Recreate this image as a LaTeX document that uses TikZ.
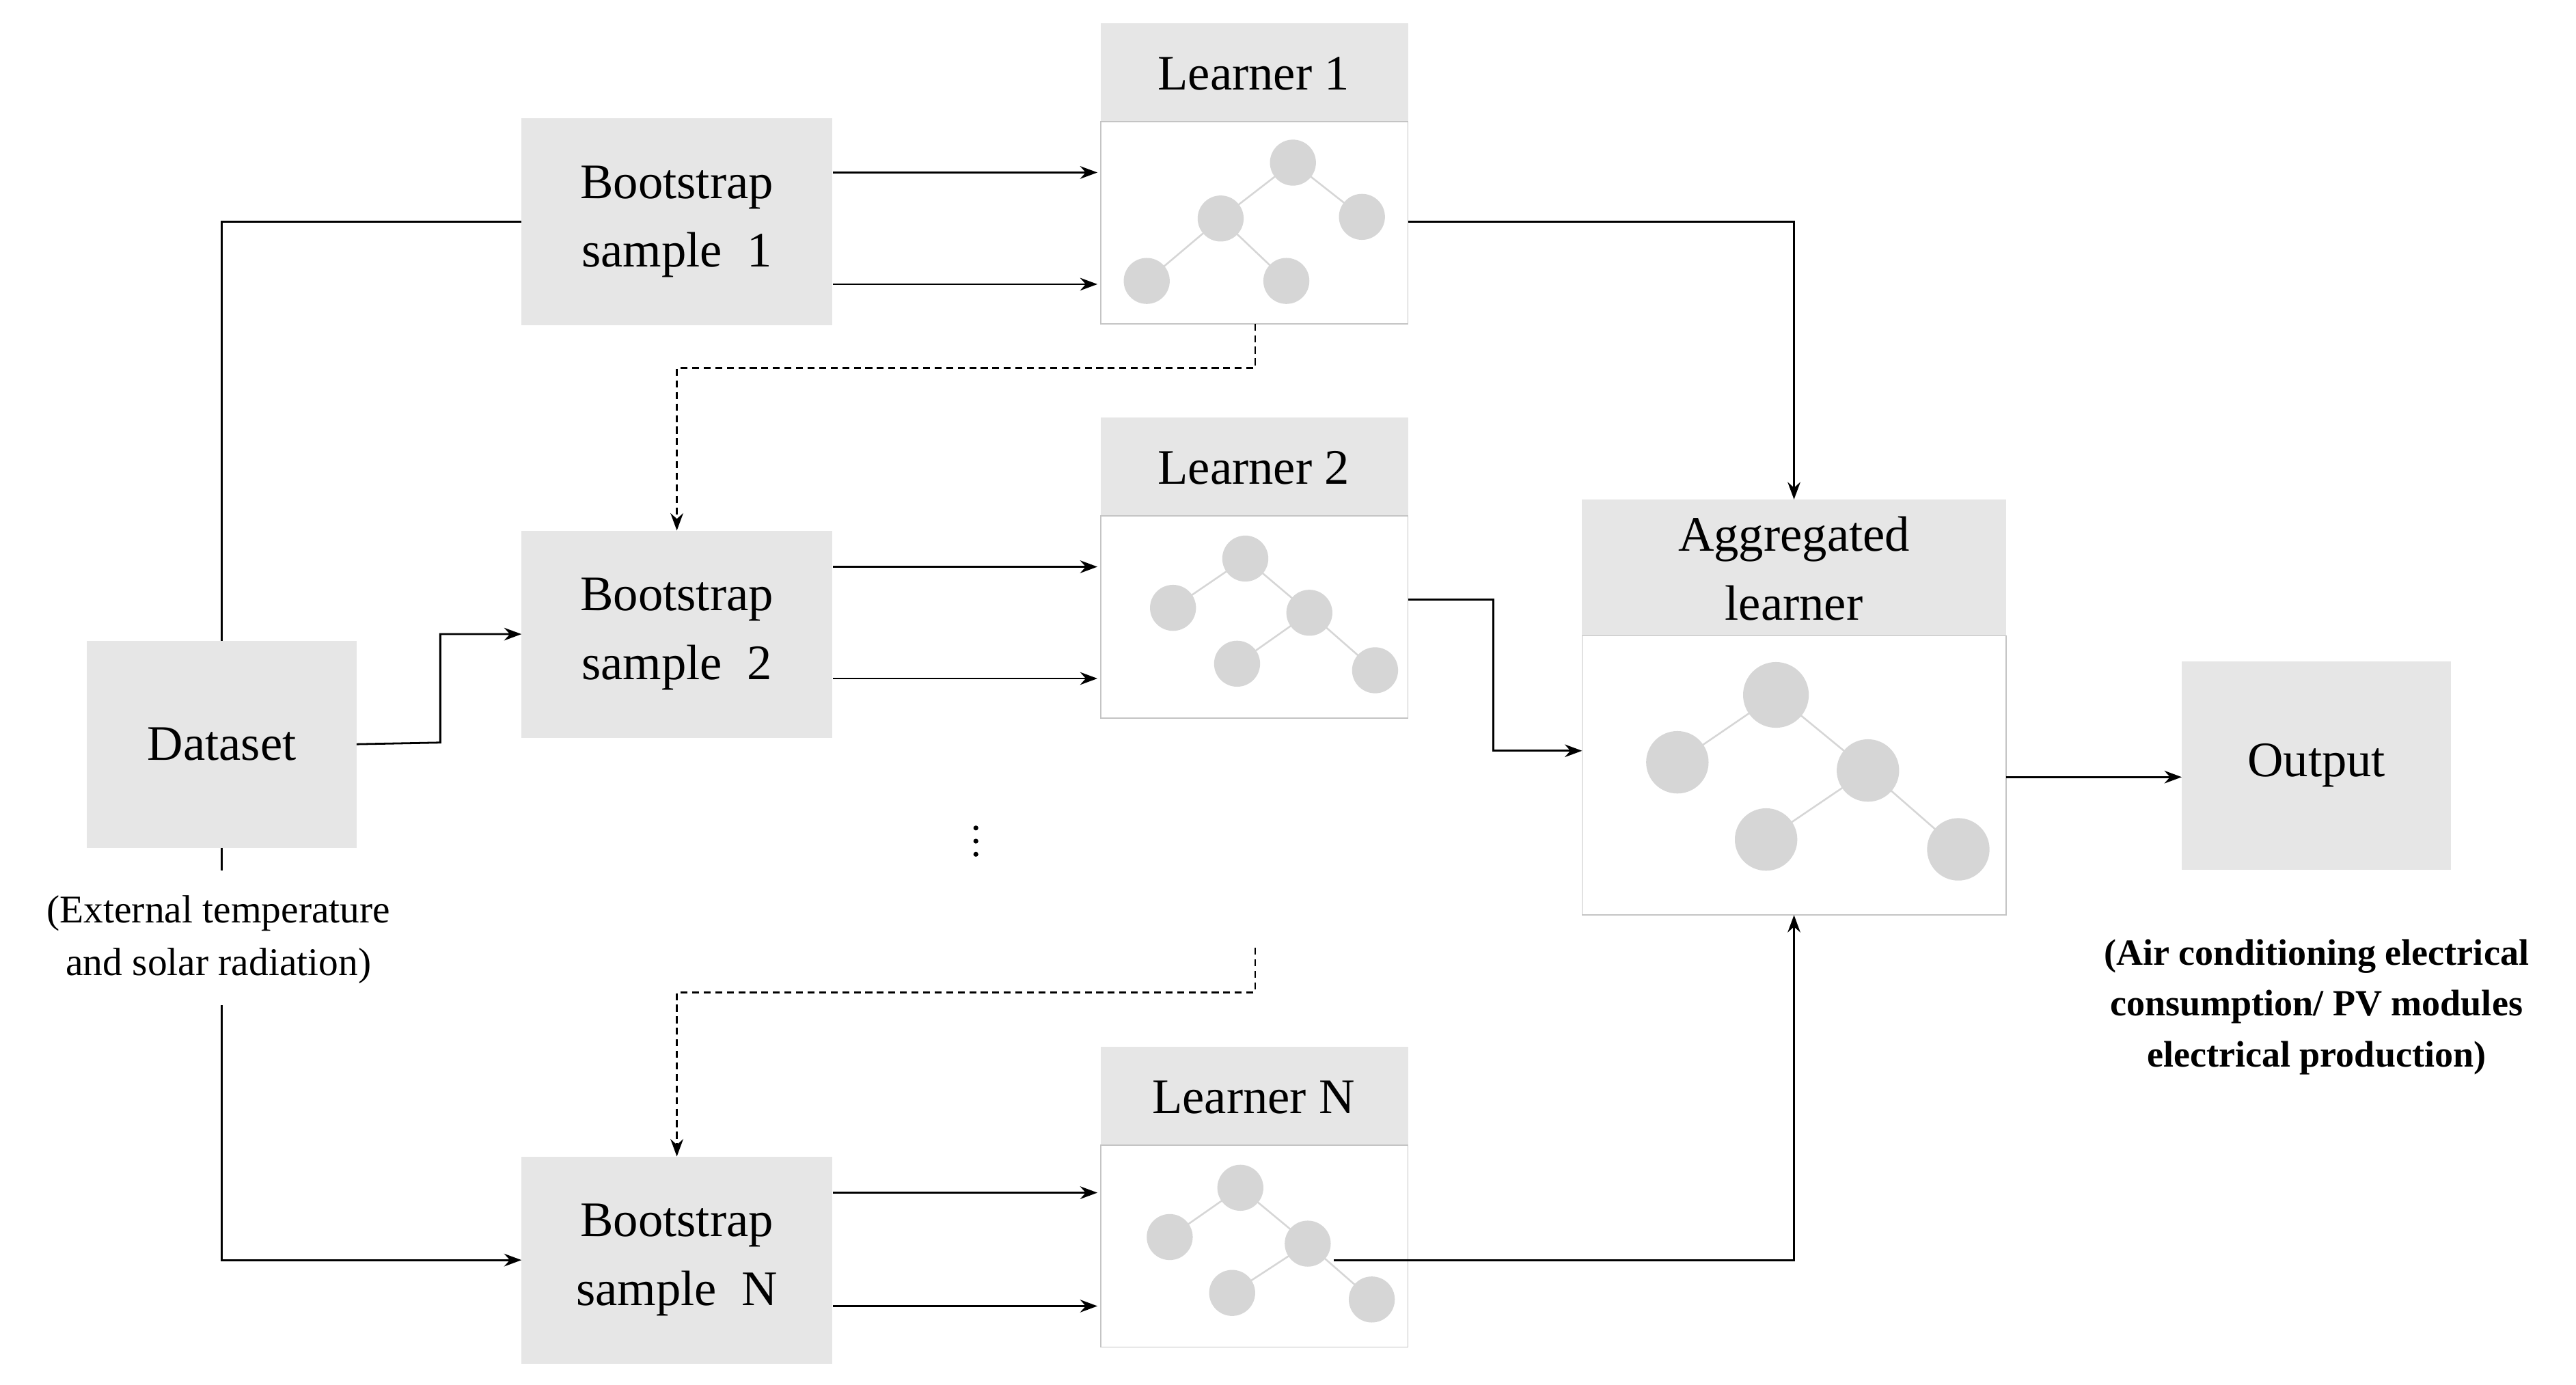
\documentclass[tikz,border=0pt]{standalone}
\usepackage{fontspec}
\setmainfont{Liberation Serif}
\usetikzlibrary{arrows.meta}
\definecolor{boxg}{HTML}{E6E6E6}
\definecolor{circg}{HTML}{D6D6D6}
\definecolor{bord}{HTML}{C4C4C4}
\begin{document}
\begin{tikzpicture}[x=0.1cm,y=-0.1cm,
  box/.style={fill=boxg,draw=none},
  lbl/.style={font=\fontsize{86}{119}\selectfont,align=center},
  capt/.style={font=\fontsize{68}{91}\selectfont,align=center},
  ln/.style={line width=3.3pt},
  ar/.style={ln,-{Stealth[length=30pt,width=22pt]}},
  da/.style={ar,dash pattern=on 12pt off 8pt},
  cc/.style={fill=circg,draw=none},
  ed/.style={draw=circg,line width=3pt}]
\useasboundingbox (0,0) rectangle (1568,843);
\fill[white] (0,0) rectangle (1568,843);
% boxes
\node[box,minimum width=16.4cm,minimum height=12.6cm] (ds) at (135,453) {};
\node[lbl] at (ds) {Dataset};
\node[capt] (dscap) at (133,572) {(External temperature\\and solar radiation)};
\foreach \n/\y/\t in {b1/135/1,b2/386/2,bN/767/N}{
  \node[box,minimum width=18.9cm,minimum height=12.6cm] (\n) at (412,\y) {};
  \node[lbl] at (\n) {Bootstrap\\sample\ \ \t};
}
\foreach \n/\y/\t in {l1/14/1,l2/254/2,lN/637/N}{
  \fill[boxg] (670,\y) rectangle (857,\y+60);
  \node[lbl] at (763,\y+31) {Learner \t};
  \draw[bord,line width=2pt] (670,\y+60) rectangle (857,\y+183);
  \coordinate (\n) at (763,\y+121);
}
\fill[boxg] (963,304) rectangle (1221,387);
\node[lbl] at (1092,346) {Aggregated\\learner};
\draw[bord,line width=2pt] (963,387) rectangle (1221,557);
\node[box,minimum width=16.4cm,minimum height=12.7cm] (out) at (1410,466) {};
\node[lbl] at (out) {Output};
\node[capt,font=\fontsize{64}{88}\selectfont\bfseries] at (1410,613) {(Air conditioning electrical\\consumption/ PV modules\\electrical production)};
% trees
\draw[ed] (787,99)--(743,133) (787,99)--(829,132) (743,133)--(698,171) (743,133)--(783,171);
\foreach \p in {(787,99),(743,133),(829,132),(698,171),(783,171)} \fill[cc] \p circle (14);
\draw[ed] (758,340)--(714,370) (758,340)--(797,373) (797,373)--(753,404) (797,373)--(837,408);
\foreach \p in {(758,340),(714,370),(797,373),(753,404),(837,408)} \fill[cc] \p circle (14);
\draw[ed] (755,723)--(712,753) (755,723)--(796,757) (796,757)--(750,787) (796,757)--(835,791);
\foreach \p in {(755,723),(712,753),(796,757),(750,787),(835,791)} \fill[cc] \p circle (14);
\draw[ed] (1081,423)--(1021,464) (1081,423)--(1137,469) (1137,469)--(1075,511) (1137,469)--(1192,517);
\foreach \p/\r in {(1081,423)/20,(1021,464)/19,(1137,469)/19,(1075,511)/19,(1192,517)/19} \fill[cc] \p circle (\r);
% connectors
\draw[ln] (ds.north) -- (135,135) -- (b1.west);
\draw[ar] (ds.east) -- (268,452) |- (b2.west);
\draw[ln] (ds.south) -- (135,530);
\draw[ar] (135,612) |- (bN.west);
\foreach \n/\ya/\yb in {b1/105/173,b2/345/413,bN/726/795}{
  \draw[ar] (507,\ya) -- (668,\ya);
  \draw[ar] (507,\yb) -- (668,\yb);
}
\draw[da] (764,197) -- (764,224) -| (b2.north);
\draw[da] (764,577) -- (764,604) -| (bN.north);
\foreach \yy in {504,512,520} \fill (594,\yy) circle (1.5);
\draw[ar] (857,135) -| (1092,304);
\draw[ar] (857,365) -- (909,365) |- (963,457);
\coordinate (lNo) at (812,767);
\draw[ar] (lNo) -| (1092,557);
\coordinate (outin) at (1328,473);
\draw[ar] (1221,473) -- (outin);
\end{tikzpicture}
\end{document}
